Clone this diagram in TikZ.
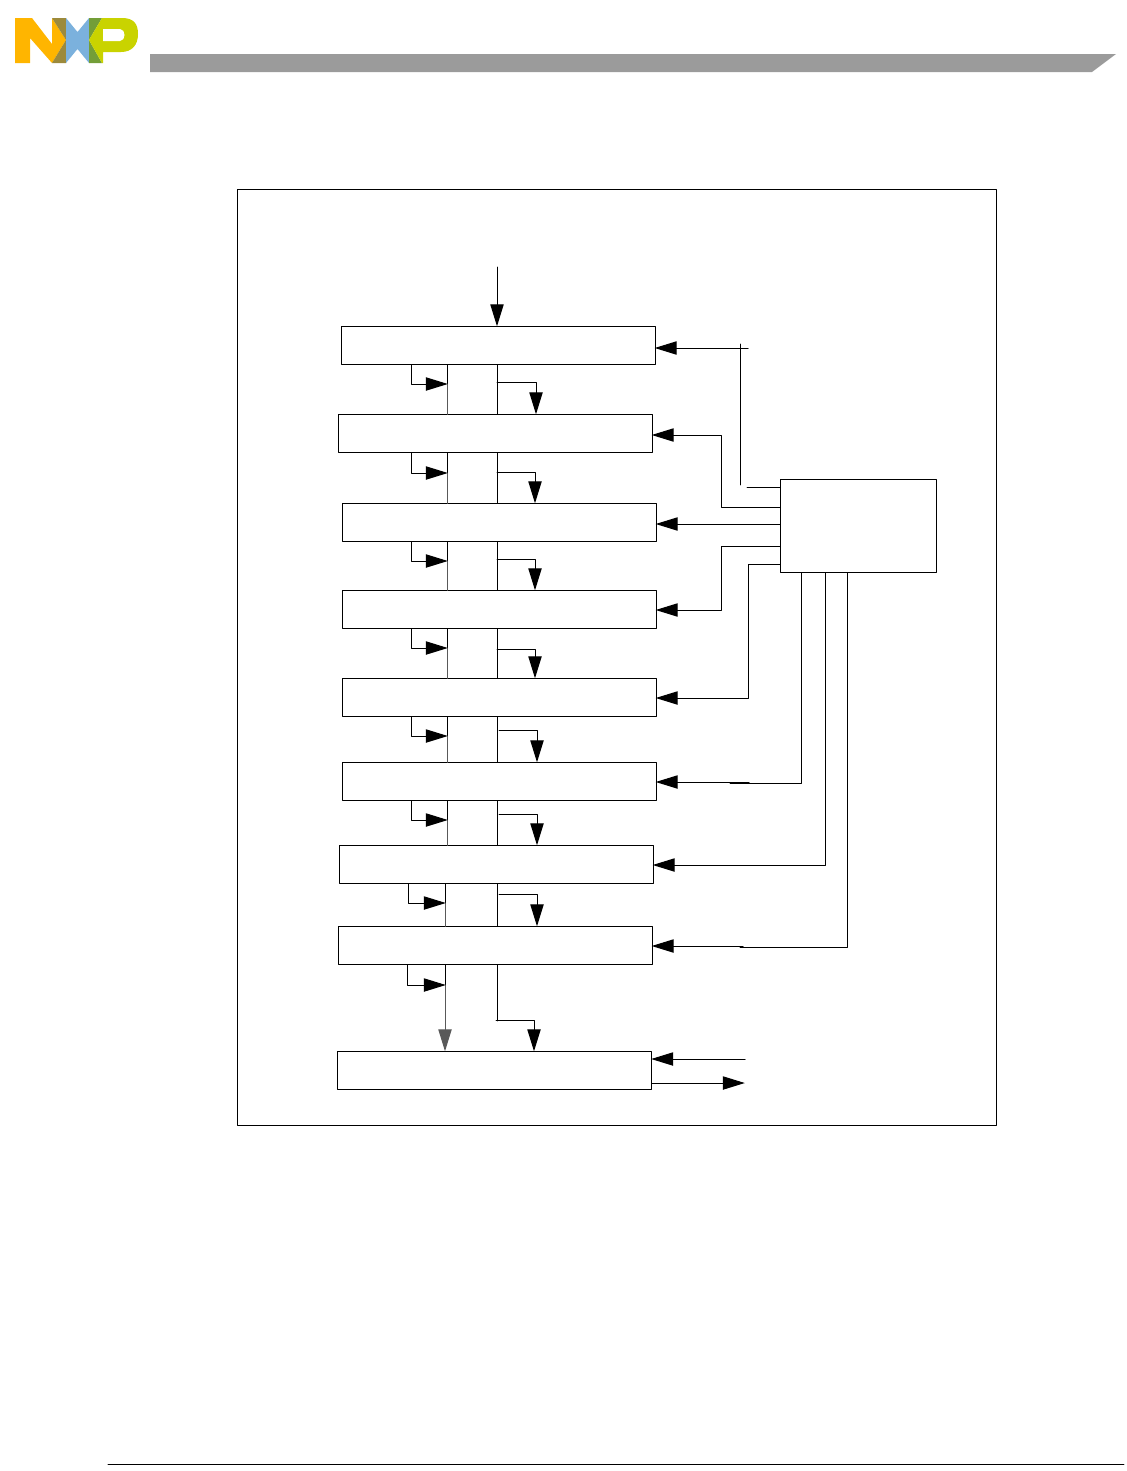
\documentclass[tikz,border=0pt]{standalone}
\usetikzlibrary{arrows.meta}
\definecolor{nxpyellow}{HTML}{FFB500}
\definecolor{nxpolive}{HTML}{9C8A3C}
\definecolor{nxpblue}{HTML}{7BB1DD}
\definecolor{nxpgreen}{HTML}{739E38}
\definecolor{nxplime}{HTML}{C9D300}
\definecolor{bargray}{HTML}{9B9B9B}
\tikzset{
  blockbox/.style={draw,inner sep=0pt,minimum width=235.5pt,minimum height=28.5pt},
  ctrlbox/.style={draw,inner sep=0pt,minimum width=117pt,minimum height=69.75pt},
  busline/.style={draw=black!65}
}
\begin{document}
\begin{tikzpicture}[line join=round, line cap=round,x=0.75pt,y=-0.75pt,line width=0.75pt,
  >={Triangle[length=16.5pt,width=10pt]},shorten >=-0.6pt]
\useasboundingbox (0,0) rectangle (1127,1471);
% logo
\fill[nxpyellow] (15,18)--(32,18)--(52,44)--(52,18)--(66,40)--(52,63)--(30,38)--(30,63)--(15,63)--cycle;
\fill[nxpolive] (52,18)--(66,18)--(66,40)--cycle;
\fill[nxpolive] (66,40)--(66,63)--(52,63)--cycle;
\fill[nxpblue] (66,18)--(77.5,32)--(89,18)--(89,63)--(77.5,49)--(66,63)--cycle;
\fill[nxpgreen] (89,18)--(102,18)--(89,40)--(102,63)--(89,63)--cycle;
\fill[nxplime] (89,40)--(102,18)--(122,18) .. controls (134,18) and (138,24) .. (138,34) .. controls (138,45) and (132,52) .. (121,52)--(103,52)--(103,63)--(102,63)--cycle;
\fill[white] (103,29)--(120,29) .. controls (126,29) and (126,41) .. (120,41)--(103,41)--cycle;
% header bar
\fill[bargray] (150,54)--(1116,54)--(1092,72)--(150,72)--cycle;
% outer frame
\node[draw,inner sep=0pt,minimum width=569.25pt,minimum height=702pt] (frame) at (616.5,657) {};
% blocks
\foreach \name/\cx/\cy in {b1/498/345,b2/495/433,b3/499/522,b4/499/609,b5/499/697,b6/499/781,b7/496/864,b8/495/945,b9/494.5/1070}
  \node[blockbox] (\name) at (\cx,\cy) {};
\node[ctrlbox] (ctrl) at (858,525.5) {};
\coordinate (in) at (497,267);
\draw[->] (in) -- (b1.north -| in);
% links between blocks
\foreach \up/\low/\stub/\bus/\ya/\yb/\xa/\xb in {b1/b2/411/447/384/382/497/536,b2/b3/411/447/473/472/497/535,
  b3/b4/411/447/561/559/497/535,b4/b5/411/447/648/649/497/535,b5/b6/411/447/736/730/499/537,
  b6/b7/411/447/820/814/499/537,b7/b8/408/445/903/894/499/537}{
  \draw (\up.south -| \bus,0) -- (\bus,\ya);
  \draw[busline] (\bus,\ya) -- (\low.north -| \bus,0);
  \draw (\up.south -| 497,0) -- (\low.north -| 497,0);
  \draw[->] (\up.south -| \stub,0) |- (\bus,\ya);
  \draw[->] (\xa,\yb) -| (\low.north -| \xb,0);
}
\draw (b8.south -| 445,0) -- (445,985);
\draw[busline,->] (445,985) -- (b9.north -| 445,0);
\draw[->] (b8.south -| 407,0) |- (445,985);
\draw (b8.south -| 497,0) -- (497,1020);
\draw[->] (496,1020) -| (b9.north -| 534,0);
% links from the control block
\coordinate (t1) at (748,348);
\coordinate (t2) at (748,487);
\draw[->] (t1) -- (b1.east |- t1);
\draw (740,344) -- (740,484);
\draw (ctrl.west |- t2) -- (t2);
\draw[->] (ctrl.west |- 0,507) -- (721,507) -- (721,435) -- (b2.east |- 0,435);
\draw[->] (ctrl.west |- 0,524) -- (b3.east |- 0,524);
\draw[->] (ctrl.west |- 0,546) -- (721,546) -- (721,610) -- (b4.east |- 0,610);
\draw[->] (ctrl.west |- 0,564) -- (748,564) -- (748,698) -- (b5.east |- 0,698);
\coordinate (t3) at (749,782);
\draw (ctrl.south -| 801,0) -- (801,783) -- (731,783);
\draw[->] (t3) -- (b6.east |- t3);
\draw[->] (ctrl.south -| 825,0) -- (825,865) -- (b7.east |- 0,865);
\coordinate (t4) at (743,946);
\draw (ctrl.south -| 847,0) -- (847,947) -- (741,947);
\draw[->] (t4) -- (b8.east |- t4);
\coordinate (t5) at (745,1059);
\coordinate (t6) at (744,1083);
\draw[->] (t5) -- (b9.east |- t5);
\draw[->] (b9.east |- t6) -- (t6);
% foot rule
\coordinate (r1) at (108,1464);
\coordinate (r2) at (1123,1464);
\draw (r1) -- (r2);
\end{tikzpicture}
\end{document}
